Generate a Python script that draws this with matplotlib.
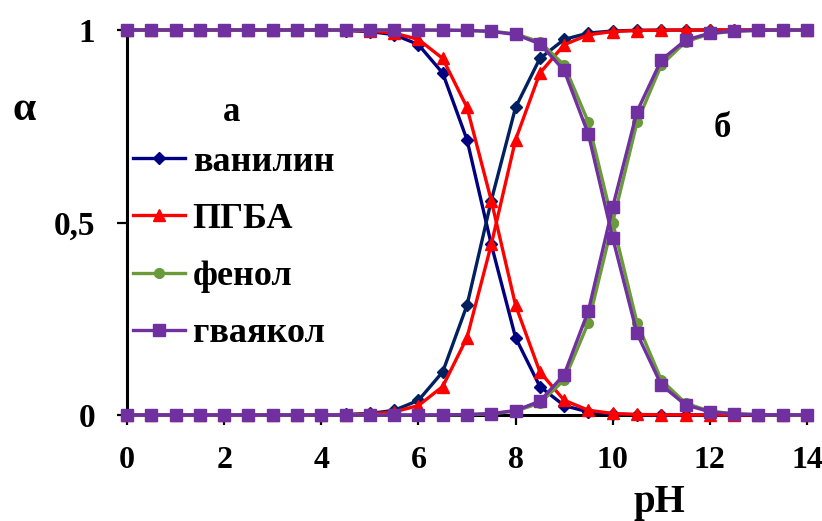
import matplotlib
matplotlib.use("Agg")
import matplotlib.pyplot as plt
from matplotlib.lines import Line2D

ph = [0.0, 0.5, 1.0, 1.5, 2.0, 2.5, 3.0, 3.5, 4.0, 4.5, 5.0, 5.5, 6.0, 6.5, 7.0,
      7.5, 8.0, 8.5, 9.0, 9.5, 10.0, 10.5, 11.0, 11.5, 12.0, 12.5, 13.0, 13.5, 14.0]

# molecular (HA) fractions
vanilin_ha = [1.0, 1.0, 1.0, 1.0, 1.0, 1.0, 1.0, 0.9999, 0.9996, 0.9987, 0.996, 0.988, 0.962, 0.888, 0.715,
              0.443, 0.201, 0.074, 0.0245, 0.0079, 0.0025, 0.0008, 0.00025, 0.0001, 0.0, 0.0, 0.0, 0.0, 0.0]
pgba_ha = [1.0, 1.0, 1.0, 1.0, 1.0, 1.0, 1.0, 1.0, 0.9997, 0.9992, 0.9975, 0.992, 0.9755, 0.926, 0.799,
           0.557, 0.285, 0.112, 0.0383, 0.0124, 0.004, 0.0013, 0.0004, 0.0001, 0.0, 0.0, 0.0, 0.0, 0.0]
phenol_ha = [1.0, 1.0, 1.0, 1.0, 1.0, 1.0, 1.0, 1.0, 1.0, 1.0, 1.0, 1.0, 0.9999, 0.9997, 0.999,
             0.9968, 0.990, 0.969, 0.909, 0.760, 0.500, 0.240, 0.0909, 0.0307, 0.0099, 0.0032, 0.001, 0.0003, 0.0001]
guaiacol_ha = [1.0, 1.0, 1.0, 1.0, 1.0, 1.0, 1.0, 1.0, 1.0, 1.0, 1.0, 1.0, 0.9999, 0.9996, 0.9988,
               0.9963, 0.9884, 0.9642, 0.895, 0.729, 0.460, 0.212, 0.078, 0.0262, 0.0084, 0.0027, 0.0009, 0.0003, 0.0001]

# anionic (A-) fractions
vanilin_a = [0.0, 0.0, 0.0, 0.0, 0.0, 0.0, 0.0, 0.0001, 0.0004, 0.0013, 0.004, 0.012, 0.038, 0.112, 0.285,
             0.557, 0.799, 0.926, 0.9755, 0.9921, 0.9975, 0.9992, 0.99975, 0.9999, 1.0, 1.0, 1.0, 1.0, 1.0]
pgba_a = [0.0, 0.0, 0.0, 0.0, 0.0, 0.0, 0.0, 0.0, 0.0003, 0.0008, 0.0025, 0.008, 0.0245, 0.074, 0.201,
          0.443, 0.715, 0.888, 0.9617, 0.9876, 0.996, 0.9987, 0.9996, 0.9999, 1.0, 1.0, 1.0, 1.0, 1.0]
phenol_a = [0.0, 0.0, 0.0, 0.0, 0.0, 0.0, 0.0, 0.0, 0.0, 0.0, 0.0, 0.0, 0.0001, 0.0003, 0.001,
            0.0032, 0.010, 0.031, 0.091, 0.240, 0.500, 0.760, 0.9091, 0.9693, 0.9901, 0.9968, 0.999, 0.9997, 0.9999]
guaiacol_a = [0.0, 0.0, 0.0, 0.0, 0.0, 0.0, 0.0, 0.0, 0.0, 0.0, 0.0, 0.0, 0.0001, 0.0004, 0.0012,
              0.0037, 0.0116, 0.0358, 0.105, 0.271, 0.540, 0.788, 0.922, 0.9738, 0.9916, 0.9973, 0.9991, 0.9997, 0.9999]

series_names = ["ванилин", "ПГБА", "фенол", "гваякол"]
x_ticks = [0, 2, 4, 6, 8, 10, 12, 14]
y_ticks = [0, 0.5, 1]
y_tick_labels = ["0", "0,5", "1"]

plt.rcParams['font.family'] = ['Liberation Serif', 'DejaVu Serif']
plt.rcParams['font.weight'] = 'bold'

W, H = 822, 521
fig = plt.figure(figsize=(8.22, 5.21), dpi=100)
ax = fig.add_axes([127 / W, 1 - 415 / H, 680 / W, 385 / H])

styles = [
    (vanilin_ha, vanilin_a, '#000080', '#002060', 'D', 6.5),
    (pgba_ha, pgba_a, '#FF0000', '#FF0000', '^', 9.0),
    (phenol_ha, phenol_a, '#6A9A3A', '#6A9A3A', 'o', 7.0),
    (guaiacol_ha, guaiacol_a, '#7030A0', '#7030A0', 's', 8.5),
]
z = 3
for ha, a, c1, c2, m, ms in styles:
    ax.plot(ph, ha, color=c1, lw=2.4, marker=m, ms=ms, mfc=c1, mec=c1,
            clip_on=False, zorder=z)
    ax.plot(ph, a, color=c2, lw=2.4, marker=m, ms=ms, mfc=c2, mec=c2,
            clip_on=False, zorder=z)
    z += 1

ax.set_xlim(0, 14)
ax.set_ylim(0, 1)
ax.set_xticks(x_ticks)
ax.set_xticklabels([str(t) for t in x_ticks])
ax.set_yticks(y_ticks)
ax.set_yticklabels(y_tick_labels)
ax.tick_params(axis='both', labelsize=23, width=1.6, length=7, direction='out')
ax.tick_params(axis='y', pad=16, labelsize=24)
ax.tick_params(axis='x', pad=15)
for lbl in ax.get_xticklabels() + ax.get_yticklabels():
    lbl.set_fontweight('bold')

for s in ['top', 'right']:
    ax.spines[s].set_visible(False)
ax.spines['left'].set_linewidth(2.2)
ax.spines['bottom'].set_linewidth(2.2)

handles = [Line2D([], [], color=st[2], lw=2.4, marker=st[4], ms=st[5], mfc=st[2], mec=st[2])
           for st in styles]
leg = fig.legend(handles, series_names, loc='center left',
                 bbox_to_anchor=(133 / W, 1 - 248 / H), bbox_transform=fig.transFigure,
                 frameon=False, prop={'family': 'Liberation Serif', 'weight': 'bold', 'size': 26},
                 handlelength=1.45, handletextpad=0.2, labelspacing=0.66, borderpad=0,
                 borderaxespad=0)

ax.text(2.15, 0.785, "а", fontsize=25, fontweight='bold', ha='center', va='center')
ax.text(12.25, 0.745, "б", fontsize=25, fontweight='bold', ha='center', va='center')
fig.text(24 / W, 1 - 110 / H, "α", fontsize=30, fontweight='bold', ha='center', va='center')
fig.text(659 / W, 1 - 512 / H, "pH", fontsize=28, fontweight='bold', ha='center', va='baseline')

fig.savefig("out.png", dpi=100)
